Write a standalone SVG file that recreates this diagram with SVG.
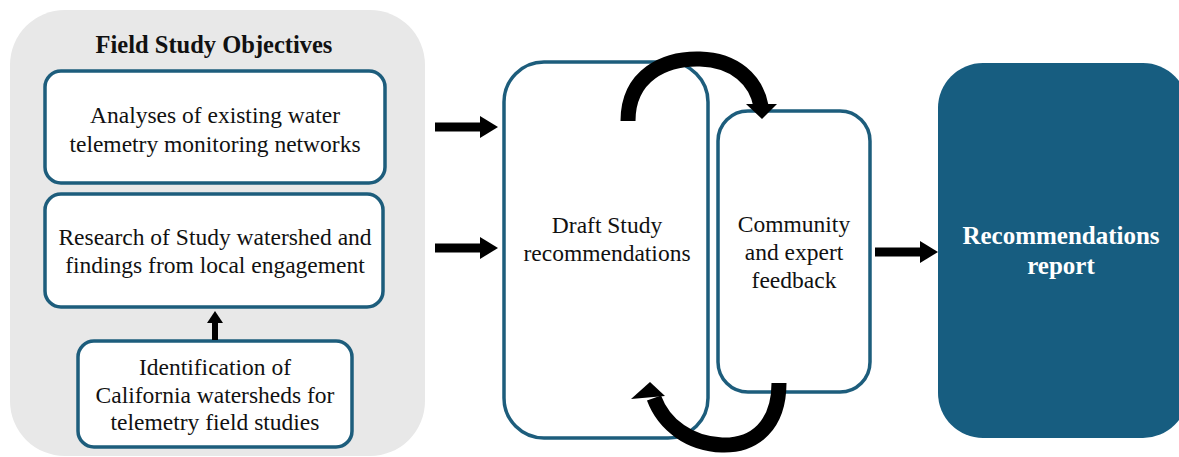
<svg xmlns="http://www.w3.org/2000/svg" width="1179" height="457" viewBox="0 0 1179 457">
<style>
.box{fill:#ffffff;stroke:#1d5d7c;stroke-width:3.5}
.t{font-family:"Liberation Serif","Times New Roman",serif;font-size:23.5px;fill:#111;text-anchor:middle}
.b{font-weight:bold;font-size:24.5px}
.w{fill:#ffffff;font-size:25px}
.arc{fill:none;stroke:#000;stroke-width:15}
</style>
<rect width="1179" height="457" fill="#ffffff"/>
<g id="panel">
<rect x="10" y="10" width="415" height="446" rx="55" fill="#e8e8e8"/>
<text class="t b" x="214" y="53">Field Study Objectives</text>
</g>
<g id="analyses">
<rect class="box" x="45" y="71" width="340" height="112" rx="16"/>
<text class="t" x="215" y="123">Analyses of existing water</text>
<text class="t" x="215" y="152">telemetry monitoring networks</text>
</g>
<g id="research">
<rect class="box" x="45" y="194" width="338" height="113" rx="16"/>
<text class="t" x="215" y="245">Research of Study watershed and</text>
<text class="t" x="215" y="273">findings from local engagement</text>
</g>
<g id="identification">
<rect class="box" x="78" y="341" width="274" height="106" rx="16"/>
<text class="t" x="215" y="375">Identification of</text>
<text class="t" x="215" y="403">California watersheds for</text>
<text class="t" x="215" y="430">telemetry field studies</text>
</g>
<g id="draft">
<rect class="box" x="504" y="62" width="204" height="376" rx="40"/>
<text class="t" x="607" y="233">Draft Study</text>
<text class="t" x="607" y="261">recommendations</text>
</g>
<g id="community">
<rect class="box" x="718" y="111" width="152" height="281" rx="30"/>
<text class="t" x="794" y="232">Community</text>
<text class="t" x="794" y="260">and expert</text>
<text class="t" x="794" y="288">feedback</text>
</g>
<g id="report">
<rect x="938" y="63" width="250" height="375" rx="45" fill="#175d80"/>
<text class="t b w" x="1061" y="244">Recommendations</text>
<text class="t b w" x="1061" y="274">report</text>
</g>
<g id="connectors">
<path d="M215 340 V322" stroke="#000" stroke-width="6"/>
<polygon points="207,323 223,323 215,311"/>
<path d="M435 127 H482" stroke="#000" stroke-width="9"/>
<polygon points="480,116 498,127 480,138"/>
<path d="M435 248 H482" stroke="#000" stroke-width="9"/>
<polygon points="480,237 498,248 480,259"/>
<path d="M875 252 H922" stroke="#000" stroke-width="9"/>
<polygon points="920,241 938,252 920,263"/>
<path class="arc" d="M628 121 C628 75 665 58 700 59 C735 60 756 80 761 106"/>
<polygon points="746,104 777,104 762,119"/>
<path class="arc" d="M779 383 C779 425 755 446 722 445 C690 444 664 425 654 398"/>
<polygon points="631,399 665,396 650,382"/>
</g>
</svg>
